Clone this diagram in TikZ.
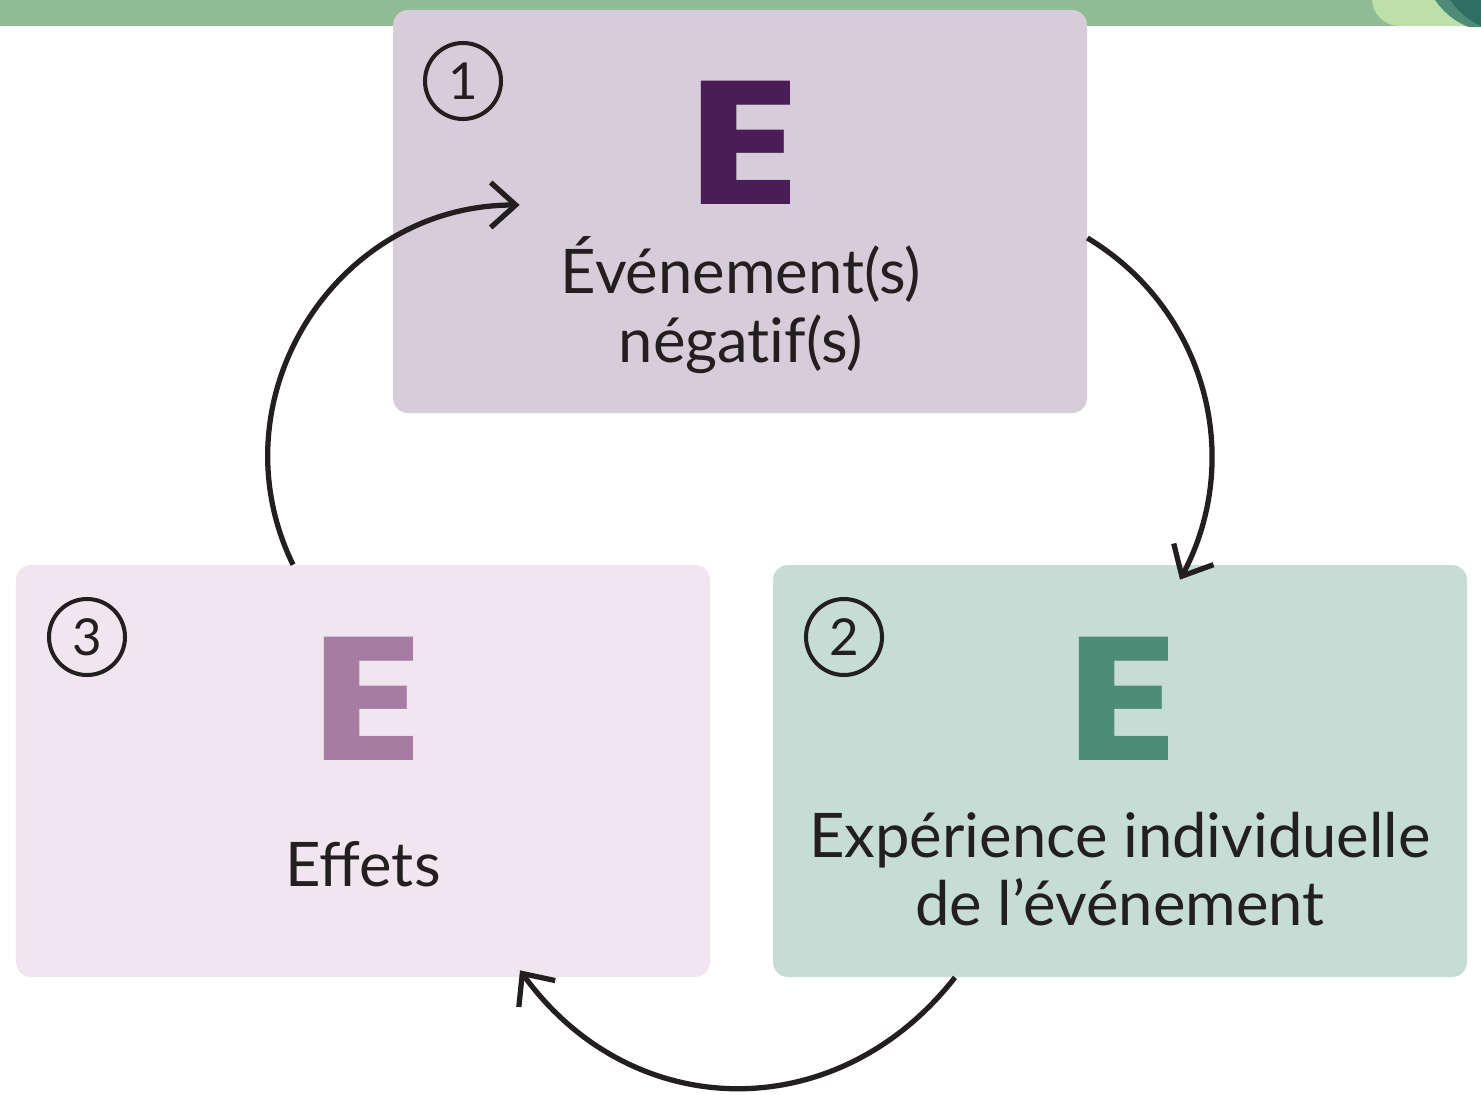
\documentclass[tikz,border=0pt]{standalone}
\usepackage{fontspec}
\setmainfont{Lato}
\newfontfamily\bigfont{Poppins}
\usepackage{tikz}
\usetikzlibrary{arrows.meta}
\definecolor{Band}{HTML}{8FBC94}
\definecolor{Leaf}{HTML}{BDDFA9}
\definecolor{Sea}{HTML}{4E8C78}
\definecolor{Deep}{HTML}{2E6E63}
\definecolor{Mauve}{HTML}{D7CCDA}
\definecolor{Mint}{HTML}{C6DDD5}
\definecolor{Blush}{HTML}{F1E6EF}
\definecolor{Plum}{HTML}{4B1D57}
\definecolor{Pine}{HTML}{4E8C78}
\definecolor{Orchid}{HTML}{A67CA3}
\definecolor{Ink}{HTML}{231F20}
\tikzstyle{box}=[rectangle,rounded corners=0.3cm,inner sep=0pt,minimum width=13.88cm]
\tikzstyle{number}=[circle,draw=Ink,text=Ink,line width=2.3pt,minimum size=1.52cm,inner sep=0pt,font=\fontsize{29}{30}\selectfont]
\tikzstyle{letter}=[inner sep=0pt,font=\bigfont\bfseries\fontsize{100}{100}\selectfont]
\tikzstyle{words}=[inner sep=0pt,align=center,text=Ink,font=\fontsize{35}{39}\selectfont]
\tikzstyle{arrow}=[-{Straight Barb[length=0.5cm,width=0.9cm]},draw=Ink,line width=3pt]

\begin{document}
\begin{tikzpicture}
  \useasboundingbox (0,0) rectangle (29.62,-21.88);
  % top band
  \fill [Band] (0,0) rectangle (29.62,-0.52);
  \begin{scope}
    \clip (0,0) rectangle (29.62,-0.52);
    \fill [Leaf, rounded corners=0.55cm] (27.44,0.6) rectangle (30.5,-0.52);
    \fill [Sea] (29.9,0.8) circle (1.44);
    \fill [Deep] (30.2,0.8) circle (1.44);
  \end{scope}
  \node [style=box, fill=Mauve, minimum height=8.06cm] (0) at (14.8, -4.23) {};
  \node [style=box, fill=Mint, minimum height=8.24cm] (1) at (22.4, -15.42) {};
  \node [style=box, fill=Blush, minimum height=8.24cm] (2) at (7.26, -15.42) {};
  \node [style=number] (3) at (9.26, -1.62) {1};
  \node [style=number] (4) at (16.88, -12.74) {2};
  \node [style=number] (5) at (1.74, -12.74) {3};
  \node [style=letter, text=Plum] (6) at (14.9, -2.85) {\scalebox{1.18}[1]{E}};
  \node [style=letter, text=Pine] (7) at (22.45, -13.98) {\scalebox{1.18}[1]{E}};
  \node [style=letter, text=Orchid] (8) at (7.35, -13.98) {\scalebox{1.18}[1]{E}};
  \node [style=words] (9) at (14.82, -6.1) {Événement(s)\\négat\kern0pt if(s)};
  \node [style=words] (10) at (22.4, -17.38) {Expérience individuelle\\de l’événement};
  \node [style=words] (11) at (7.26, -17.28) {Effets};
  \draw [style=arrow] ([yshift=-0.53cm]0.east) to[out=-31, in=62, looseness=1] ([xshift=1.2cm, yshift=-0.3cm]1.north);
  \draw [style=arrow] ([xshift=-3.3cm]1.south) to[out=-128, in=-54, looseness=1.12] ([xshift=3.14cm, yshift=0.14cm]2.south);
  \draw [style=arrow] ([xshift=-1.4cm]2.north) to[out=116, in=180, looseness=1.11] ([xshift=2.54cm, yshift=0.13cm]0.west);
\end{tikzpicture}
\end{document}
